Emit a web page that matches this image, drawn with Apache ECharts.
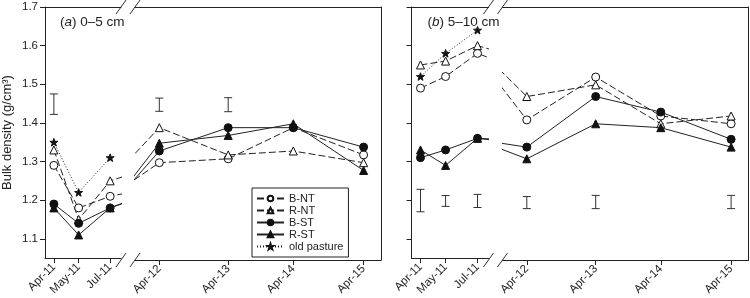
<!DOCTYPE html>
<html>
<head>
<meta charset="utf-8">
<script src="https://cdn.jsdelivr.net/npm/echarts@6/dist/echarts.min.js"></script>
<style>
html, body { margin: 0; padding: 0; background: #fff; }
#chart { width: 750px; height: 298px; }
</style>
</head>
<body>
<div id="chart"></div>
<script>
// sampling dates, in months since Jan 2011 (broken time axis)
var xLabels = ['Apr-11', 'May-11', 'Jul-11', 'Apr-12', 'Apr-13', 'Apr-14', 'Apr-15'];
var sampleMonths = [3.5, 4.82, 6.5, 15.5, 27.64, 39.11, 51.5];
var yTicks = [1.1, 1.2, 1.3, 1.4, 1.5, 1.6, 1.7];

var seriesNames = ['B-NT', 'R-NT', 'B-ST', 'R-ST', 'old pasture'];

// (a) 0-5 cm
var aBNT = [1.29, 1.18, 1.21, 1.30, 1.31, 1.39, 1.32];
var aRNT = [1.33, 1.15, 1.25, 1.39, 1.32, 1.33, 1.30];
var aBST = [1.19, 1.14, 1.18, 1.33, 1.39, 1.39, 1.34];
var aRST = [1.18, 1.11, 1.18, 1.35, 1.37, 1.40, 1.28];
var aOld = [1.35, 1.22, 1.31];
var aLsdLow  = [1.422, null, null, 1.432, 1.431, null, null];
var aLsdHigh = [1.475, null, null, 1.466, 1.467, null, null];

// (b) 5-10 cm
var bBNT = [1.49, 1.52, 1.58, 1.41, 1.52, 1.42, 1.40];
var bRNT = [1.55, 1.56, 1.60, 1.47, 1.50, 1.40, 1.42];
var bBST = [1.31, 1.33, 1.36, 1.34, 1.47, 1.43, 1.36];
var bRST = [1.33, 1.29, 1.36, 1.31, 1.40, 1.39, 1.34];
var bOld = [1.52, 1.58, 1.64];
var bLsdLow  = [1.170, 1.184, 1.181, 1.182, 1.182, null, 1.182];
var bLsdHigh = [1.228, 1.212, 1.215, 1.213, 1.216, null, 1.216];

var FONT = '"Liberation Sans", Arial, Helvetica, sans-serif';
var INK = '#222';

// layout of the two panels, each split in two at the axis break
var TOP = 7, BOTTOM = 38;
var panelLeft = [44, 411.5];
var breakL = 77, breakR = 91, panelW = 337;   // offsets from panel left
var rangeA = [3.026, 7.079];    // months shown before the break
var rangeB = [11.218, 54.566];  // months shown after the break

var starPath = 'path://M0,-10L2.35,-3.24L9.51,-3.09L3.8,1.24L5.88,8.09L0,4L-5.88,8.09L-3.8,1.24L-9.51,-3.09L-2.35,-3.24Z';

var styles = {
  'B-NT': { symbol: 'circle', size: 8, fill: '#fff', dash: [7, 3] },
  'R-NT': { symbol: 'triangle', size: 8, fill: '#fff', dash: [7, 3] },
  'B-ST': { symbol: 'circle', size: 8, fill: '#111', dash: 'solid' },
  'R-ST': { symbol: 'triangle', size: 8, fill: '#111', dash: 'solid' },
  'old pasture': { symbol: starPath, size: 8, fill: '#111', dash: [1, 2] }
};

function pairs(vals) {
  var out = [];
  for (var i = 0; i < vals.length; i++) {
    out.push([sampleMonths[i], vals[i]]);
  }
  return out;
}

function labelFor(v) {
  for (var i = 0; i < sampleMonths.length; i++) {
    if (Math.abs(sampleMonths[i] - v) < 0.01) return xLabels[i];
  }
  return '';
}

var panels = [
  { lists: [aBNT, aRNT, aBST, aRST, aOld], low: aLsdLow, high: aLsdHigh, title: '({i|a}) 0–5 cm' },
  { lists: [bBNT, bRNT, bBST, bRST, bOld], low: bLsdLow, high: bLsdHigh, title: '({i|b}) 5–10 cm' }
];

var grids = [], xAxes = [], yAxes = [], series = [], graphics = [];

for (var p = 0; p < 2; p++) {
  var L = panelLeft[p];
  for (var s = 0; s < 2; s++) {
    var g = p * 2 + s;
    var left = s == 0 ? L : L + breakR;
    var width = s == 0 ? breakL : panelW - breakR;
    var range = s == 0 ? rangeA : rangeB;
    grids.push({ left: left, width: width, top: TOP, bottom: BOTTOM });

    var ticks = sampleMonths.filter(function(m) { return m >= range[0] && m <= range[1]; });
    // bottom axis
    xAxes.push({
      type: 'value', gridIndex: g, min: range[0], max: range[1], position: 'bottom',
      axisLine: { show: true, lineStyle: { color: INK, width: 1 } },
      axisTick: { show: true, customValues: ticks, length: 5, lineStyle: { color: INK } },
      axisLabel: {
        show: true, customValues: ticks, rotate: 45, margin: 7,
        fontSize: 11.5, fontFamily: FONT, color: INK,
        formatter: labelFor
      },
      splitLine: { show: false }
    });
    // top border
    xAxes.push({
      type: 'value', gridIndex: g, min: range[0], max: range[1], position: 'top',
      axisLine: { show: true, lineStyle: { color: INK, width: 1 } },
      axisTick: { show: false }, axisLabel: { show: false }, splitLine: { show: false }
    });
    yAxes.push({
      type: 'value', gridIndex: g, min: 1.05, max: 1.7,
      position: s == 0 ? 'left' : 'right',
      name: (p == 0 && s == 0) ? 'Bulk density (g/cm³)' : '',
      nameLocation: 'middle', nameGap: 31,
      nameTextStyle: { fontSize: 13, fontFamily: FONT, color: INK },
      axisLine: { show: true, lineStyle: { color: INK, width: 1 } },
      axisTick: { show: s == 0, customValues: yTicks, length: 5, lineStyle: { color: INK } },
      axisLabel: {
        show: p == 0 && s == 0, customValues: yTicks, margin: 7,
        fontSize: 11.5, fontFamily: FONT, color: INK,
        formatter: function(v) { return v.toFixed(1); }
      },
      splitLine: { show: false }
    });

    var lists = panels[p].lists;
    for (var k = 0; k < seriesNames.length; k++) {
      if (k == 4 && s == 1) continue;
      var st = styles[seriesNames[k]];
      series.push({
        name: seriesNames[k], type: 'line',
        xAxisIndex: g * 2, yAxisIndex: g,
        data: pairs(lists[k]),
        clip: true,
        symbol: st.symbol, symbolSize: st.size, symbolKeepAspect: true,
        showAllSymbol: true,
        lineStyle: { color: INK, width: 1, type: st.dash },
        itemStyle: { color: st.fill, borderColor: '#111', borderWidth: 1 },
        emphasis: { disabled: true },
        animation: false,
        z: 3
      });
    }

    // LSD bars
    var bars = [];
    for (var i = 0; i < sampleMonths.length; i++) {
      var inRange = sampleMonths[i] >= range[0] && sampleMonths[i] <= range[1];
      if (inRange && panels[p].low[i] != null) {
        bars.push([sampleMonths[i], panels[p].low[i], panels[p].high[i]]);
      }
    }
    series.push({
      type: 'custom', xAxisIndex: g * 2, yAxisIndex: g,
      data: bars, silent: true, animation: false,
      encode: { x: 0, y: [1, 2] },
      renderItem: function(params, api) {
        var lo = api.coord([api.value(0), api.value(1)]);
        var hi = api.coord([api.value(0), api.value(2)]);
        var w = 4;
        var stl = { stroke: '#333', lineWidth: 1 };
        return {
          type: 'group',
          children: [
            { type: 'line', shape: { x1: lo[0], y1: lo[1], x2: hi[0], y2: hi[1] }, style: stl },
            { type: 'line', shape: { x1: lo[0] - w, y1: lo[1], x2: lo[0] + w, y2: lo[1] }, style: stl },
            { type: 'line', shape: { x1: hi[0] - w, y1: hi[1], x2: hi[0] + w, y2: hi[1] }, style: stl }
          ]
        };
      }
    });
  }

  // break marks on top and bottom borders
  var yTop = TOP, yBot = 298 - BOTTOM;
  [L + breakL, L + breakR].forEach(function(bx) {
    [yTop, yBot].forEach(function(by) {
      graphics.push({
        type: 'line', silent: true,
        shape: { x1: bx - 5, y1: by + 7, x2: bx + 5, y2: by - 7 },
        style: { stroke: '#333', lineWidth: 1 }
      });
    });
  });

  graphics.push({
    type: 'text', left: L + 16, top: 15, silent: true,
    style: {
      text: panels[p].title, fontSize: 13.5, fontFamily: FONT, fill: INK,
      rich: { i: { fontStyle: 'italic', fontSize: 13.5, fontFamily: FONT, fill: INK } }
    }
  });
}

var chart = echarts.init(document.getElementById('chart'), null, { renderer: 'canvas' });
chart.setOption({
  animation: false,
  backgroundColor: '#fff',
  grid: grids,
  xAxis: xAxes,
  yAxis: yAxes,
  legend: {
    data: seriesNames,
    orient: 'vertical',
    left: 252, top: 188,
    padding: [5, 5, 5, 4],
    itemWidth: 27, itemHeight: 7, itemGap: 1,
    borderColor: INK, borderWidth: 1,
    backgroundColor: '#fff',
    selectedMode: false,
    textStyle: { fontSize: 11, lineHeight: 10, fontFamily: FONT, color: INK, padding: [0, 0, 0, 0] }
  },
  series: series,
  graphic: graphics
});
</script>
</body>
</html>
